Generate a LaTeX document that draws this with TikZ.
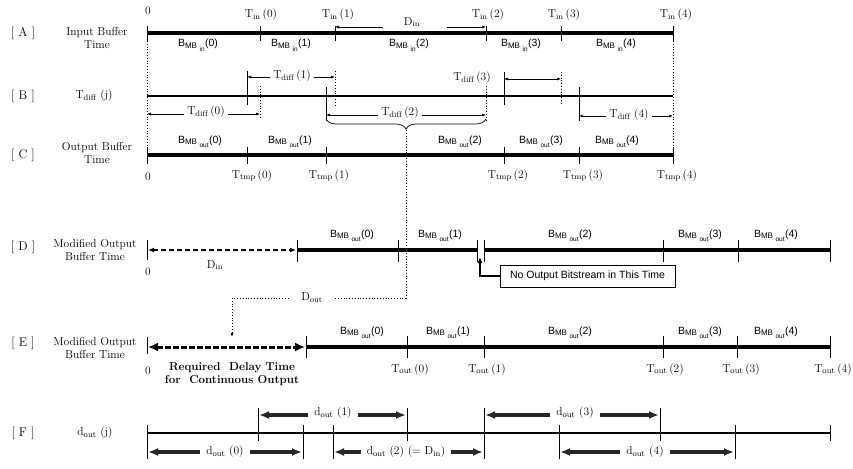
\documentclass[tikz,border=0pt]{standalone}
\usepackage{fontspec}
\newfontfamily\sansf{Liberation Sans}
\usetikzlibrary{arrows.meta,decorations.pathreplacing}
\newcommand{\bmb}[2]{{\sansf\fontsize{10.5}{11}\selectfont B\raisebox{-0.35ex}{\fontsize{8}{8}\selectfont MB\hspace{2.5pt}\raisebox{-0.55ex}{\fontsize{6.5}{6.5}\selectfont #1}}\hspace{0.5pt}(#2)}}
\newcommand{\tsub}[2]{#1$_{\mathrm{#2}}$}
\begin{document}
\begin{tikzpicture}[x=1pt,y=-1pt,
  lab/.style={font=\fontsize{11.5}{13}\selectfont, inner sep=1pt},
  bl/.style={font=\fontsize{11.5}{13}\selectfont, inner sep=0pt, anchor=base},
  bbl/.style={inner sep=0pt, anchor=base},
  rowlab/.style={font=\fontsize{12.5}{14}\selectfont},
  side/.style={font=\fontsize{11.5}{13}\selectfont, align=center},
  thickbar/.style={line width=4.5pt},
  thinbar/.style={line width=1.6pt},
  tk/.style={line width=1pt},
  dtk/.style={line width=0.8pt, dotted},
  dim/.style={line width=0.6pt, {Latex[length=4pt,width=3pt]}-{Latex[length=4pt,width=3pt]}},
  dimto/.style={line width=0.6pt, -{Latex[length=4pt,width=3pt]}},
  wlab/.style={font=\fontsize{11.5}{13}\selectfont, fill=white, inner ysep=0pt, inner xsep=3pt},
  bigdim/.style={line width=3.2pt, black!85, {Latex[length=10pt,width=8pt]}-{Latex[length=10pt,width=8pt]}},
  flab/.style={font=\fontsize{11.5}{13}\selectfont, fill=white, inner ysep=0pt, inner xsep=6pt},
]
\useasboundingbox (0,0) rectangle (853,468);

% ---------- Row A ----------
\node[rowlab] (ra) at (23,33) {[ A ]};
\node[side] (la) at (97,38) {Input Buffer\\Time};
\draw[thickbar] (147,33) -- (673,33);
\foreach \x in {147,260,335,486,561,673} \draw[tk] (\x,26) -- (\x,41);
\node[bl] (a0) at (148,15) {0};
\node[bl] (tin0) at (261,18) {\tsub{T}{in}\,(0)};
\node[bl] (tin1) at (338,18) {\tsub{T}{in}\,(1)};
\node[bl] (tin2) at (488,18) {\tsub{T}{in}\,(2)};
\node[bl] (tin3) at (564,18) {\tsub{T}{in}\,(3)};
\node[bl] (tin4) at (676,18) {\tsub{T}{in}\,(4)};
\node[bbl] (bi0) at (198,47) {\bmb{in}{0}};
\node[bbl] (bi1) at (291,47) {\bmb{in}{1}};
\node[bbl] (bi2) at (409,47) {\bmb{in}{2}};
\node[bbl] (bi3) at (521,47) {\bmb{in}{3}};
\node[bbl] (bi4) at (616,47) {\bmb{in}{4}};
\node[lab] (din) at (412,22) {\tsub{D}{in}};
\draw[dimto] (383,27) -- (335,27);
\draw[dimto] (447,27) -- (486,27);
\draw[dtk] (147,41) -- (147,147);
\draw[dtk] (673,41) -- (673,147);

% ---------- Row B ----------
\node[rowlab] (rb) at (23,96) {[ B ]};
\node[lab] (lb) at (94,96) {\tsub{T}{diff} (j)};
\draw[thinbar] (147,96) -- (673,96);
\draw[tk] (247,71) -- (247,105);
\draw[tk] (326,87) -- (326,121);
\draw[tk] (504,72) -- (504,105);
\draw[tk] (579,87) -- (579,121);
\draw[dtk] (260,86) -- (260,118);
\draw[dtk] (335,71) -- (335,105);
\draw[dtk] (486,86) -- (486,120);
\draw[dtk] (561,72) -- (561,105);
\draw[dim] (247,77) -- (335,77);
\node[wlab] (td1) at (292,76) {\tsub{T}{diff}\,(1)};
\draw[dim] (147,114) -- (260,114);
\node[wlab] (td0) at (206,112) {\tsub{T}{diff}\,(0)};
\draw[dim] (326,115) -- (486,115);
\node[wlab] (td2) at (400,113) {\tsub{T}{diff}\,(2)};
\draw[line width=0.7pt, decorate, decoration={brace, mirror, amplitude=10pt}] (326,119) -- (486,119);
\node[lab] (td3) at (472,78) {\tsub{T}{diff}\,(3)};
\draw[dim] (504,79) -- (561,79);
\draw[dim] (579,116) -- (673,116);
\node[wlab] (td4) at (629,115) {\tsub{T}{diff}\ (4)};

% ---------- Row C ----------
\node[rowlab] (rc) at (23,155) {[ C ]};
\node[side] (lc) at (97,153) {Output Buffer\\Time};
\draw[thickbar] (147,155) -- (673,155);
\foreach \x in {147,247,326,504,579,673} \draw[tk] (\x,147) -- (\x,164);
\node[bbl] (bc0) at (200,143) {\bmb{out}{0}};
\node[bbl] (bc1) at (290,143) {\bmb{out}{1}};
\node[bbl] (bc2) at (460,143) {\bmb{out}{2}};
\node[bbl] (bc3) at (541,143) {\bmb{out}{3}};
\node[bbl] (bc4) at (617,143) {\bmb{out}{4}};
\node[bl] (c0) at (148,180) {0};
\node[bl] (tt0) at (252,178) {\tsub{T}{tmp}\,(0)};
\node[bl] (tt1) at (329,178) {\tsub{T}{tmp}\,(1)};
\node[bl] (tt2) at (508,178) {\tsub{T}{tmp}\,(2)};
\node[bl] (tt3) at (583,178) {\tsub{T}{tmp}\,(3)};
\node[bl] (tt4) at (677,178) {\tsub{T}{tmp}\,(4)};

% ---------- D_out path ----------
\draw[dtk] (406,130) -- (406,298) -- (232,298);
\draw[dtk, -{Latex[length=4pt,width=3pt]}] (232,298) -- (232,337);
\node[lab, fill=white, inner xsep=12pt] (dout) at (312,298) {\tsub{D}{out}};

% ---------- Row D ----------
\node[rowlab] (rd) at (23,247) {[ D ]};
\node[side] (ld) at (95,250) {Modified Output\\Buffer Time};
\draw[tk] (147,240) -- (147,260);
\draw[line width=1.4pt, dash pattern=on 5pt off 3pt, {Latex[length=6pt,width=5pt]}-{Latex[length=6pt,width=5pt]}] (148,250) -- (296,250);
\node[lab] (dind) at (215,265) {\tsub{D}{in}};
\node[bl] (d0) at (148,275) {0};
\draw[thickbar] (297,250) -- (477,250);
\draw[thickbar] (484,250) -- (830,250);
\foreach \x in {297,398,477,484,663,738,830} \draw[tk] (\x,240) -- (\x,262);
\node[bbl] (bd0) at (352,237) {\bmb{out}{0}};
\node[bbl] (bd1) at (440,237) {\bmb{out}{1}};
\node[bbl] (bd2) at (570,237) {\bmb{out}{2}};
\node[bbl] (bd3) at (700,237) {\bmb{out}{3}};
\node[bbl] (bd4) at (776,237) {\bmb{out}{4}};
\node[draw, line width=0.8pt, minimum width=175pt, minimum height=22pt, inner sep=0pt, font=\sansf\fontsize{10.5}{12}\selectfont] (nobox) at (587.5,276) {No Output Bitstream in This Time};
\coordinate (gap) at (480,257);
\draw[line width=1.6pt, -{Latex[length=6pt,width=5pt]}] (nobox.west) -| (gap);

% ---------- Row E ----------
\node[rowlab] (re) at (23,343) {[ E ]};
\node[side] (le) at (95,348) {Modified Output\\Buffer Time};
\draw[tk] (147,337) -- (147,354);
\draw[line width=3pt, dash pattern=on 6pt off 2pt, {Latex[length=10pt,width=9pt]}-{Latex[length=10pt,width=9pt]}] (148,347) -- (305,347);
\draw[thickbar] (306,347) -- (830,347);
\foreach \x in {306,407,484,663,737,830} \draw[tk] (\x,336) -- (\x,358);
\node[bbl] (be0) at (362,334) {\bmb{out}{0}};
\node[bbl] (be1) at (448,334) {\bmb{out}{1}};
\node[bbl] (be2) at (570,334) {\bmb{out}{2}};
\node[bbl] (be3) at (700,334) {\bmb{out}{3}};
\node[bbl] (be4) at (776,334) {\bmb{out}{4}};
\node[bl] (e0) at (148,374) {0};
\node[bl] (to0) at (410,372) {\tsub{T}{out}\,(0)};
\node[bl] (to1) at (487,372) {\tsub{T}{out}\,(1)};
\node[bl] (to2) at (665,372) {\tsub{T}{out}\,(2)};
\node[bl] (to3) at (741,372) {\tsub{T}{out}\,(3)};
\node[bl] (to4) at (833,372) {\tsub{T}{out}\,(4)};
\node[font=\bfseries\fontsize{11.5}{13}\selectfont, align=center, inner sep=0pt] (req) at (232,374) {Required\ \ Delay Time\\for\ \ Continuous Output};

% ---------- Row F ----------
\node[rowlab] (rf) at (23,433) {[ F ]};
\node[lab] (lf) at (95,433) {\tsub{d}{out} (j)};
\draw[thinbar] (147,433) -- (830,433);
\foreach \x in {147,303,333,559,735} \draw[tk] (\x,425) -- (\x,459);
\foreach \x in {258,407,660} \draw[tk] (\x,408) -- (\x,441);
\draw[tk] (484,408) -- (484,459);
\draw[tk] (830,425) -- (830,441);
\draw[bigdim] (148,452) -- (302,452);
\node[flab] (do0) at (225,452) {\tsub{d}{out} (0)};
\draw[bigdim] (259,415) -- (406,415);
\node[flab] (do1) at (333,413) {\tsub{d}{out} (1)};
\draw[bigdim] (334,452) -- (483,452);
\node[flab] (do2) at (406,452) {\tsub{d}{out} (2) (= \tsub{D}{in})};
\draw[bigdim] (485,415) -- (659,415);
\node[flab] (do3) at (575,413) {\tsub{d}{out} (3)};
\draw[bigdim] (560,452) -- (734,452);
\node[flab] (do4) at (645,452) {\tsub{d}{out} (4)};
\end{tikzpicture}
\end{document}
